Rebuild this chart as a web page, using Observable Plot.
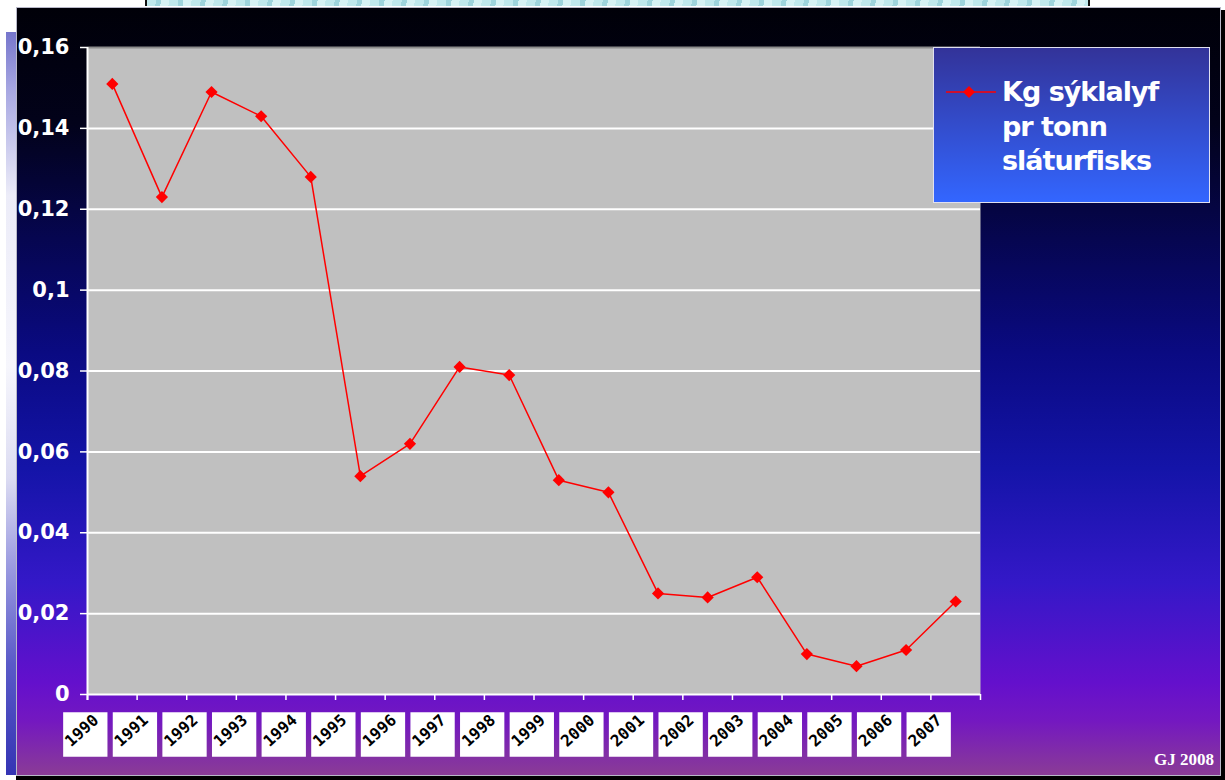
<!DOCTYPE html>
<html>
<head>
<meta charset="utf-8">
<script src="https://cdn.jsdelivr.net/npm/d3@7"></script>
<script src="https://cdn.jsdelivr.net/npm/@observablehq/plot@0.6"></script>
<style>
  html, body { margin: 0; padding: 0; background: #ffffff; }
  #wrap { position: relative; width: 1225px; height: 780px; overflow: hidden; background: #ffffff; }
  #photo { position: absolute; left: 145px; top: 0; width: 941px; height: 6px;
    background: repeating-linear-gradient(100deg, #bfe8ec 0 9px, #9ed4dc 9px 14px, #d6f2f4 14px 22px);
    border-left: 2px solid #111; border-right: 2px solid #111; }
  #stripe { position: absolute; left: 6px; top: 32px; width: 10px; height: 743px;
    background: linear-gradient(to bottom, #7676cc 0%, #a8a8e2 8%, #ececf8 22%, #f6f6fc 45%, #dcdcf2 60%, #9a9ae0 72%, #5a5ac8 85%, #3434b4 100%); }
  #panel { position: absolute; left: 16px; top: 7px; width: 1203px; height: 767px;
    border: 1px solid #b8b8c8;
    background: linear-gradient(to bottom, #000008 0%, #02021a 15%, #060650 30%, #0a0a82 45%, #1414a8 60%, #3418c8 75%, #6410cc 88%, #7418c0 93%, #8a3c96 100%); }
  #rightline { position: absolute; left: 1221px; top: 10px; width: 4px; height: 770px; background: #000; }
  #bottomline { position: absolute; left: 16px; top: 776px; width: 1209px; height: 4px; background: #000; }
  #chart { position: absolute; left: 0; top: 0; }
  #legend { position: absolute; left: 933px; top: 47px; width: 275px; height: 154px;
    border: 1px solid #e0e0f0;
    background: linear-gradient(to bottom, #333399 0%, #3366ff 100%); }
  #legend svg { position: absolute; left: 12px; top: 37px; }
  #legend .txt { position: absolute; left: 68px; top: 27px; color: #ffffff;
    font-family: "DejaVu Sans", sans-serif; font-weight: bold; font-size: 27px;
    letter-spacing: -1px; line-height: 34.5px; white-space: nowrap; }
  #credit { position: absolute; left: 1154px; top: 750px; color: #ffffff;
    font-family: "Liberation Serif", serif; font-weight: bold; font-size: 17px; }
</style>
</head>
<body>
<div id="wrap">
  <div id="photo"></div>
  <div id="stripe"></div>
  <div id="panel"></div>
  <div id="rightline"></div>
  <div id="bottomline"></div>
  <div id="chart"></div>
  <div id="legend">
    <svg width="52" height="14" viewBox="0 0 52 14">
      <line x1="0" y1="7" x2="50" y2="7" stroke="#ff0000" stroke-width="1.5"></line>
      <polygon points="23,1 29,7 23,13 17,7" fill="#ff0000"></polygon>
    </svg>
    <div class="txt"></div>
  </div>
  <div id="credit"></div>
</div>
<script>
// ---- data ----
const years = [1990, 1991, 1992, 1993, 1994, 1995, 1996, 1997, 1998, 1999,
               2000, 2001, 2002, 2003, 2004, 2005, 2006, 2007];
const values = [0.151, 0.123, 0.149, 0.143, 0.128, 0.054, 0.062, 0.081, 0.079, 0.053,
                0.050, 0.025, 0.024, 0.029, 0.010, 0.007, 0.011, 0.023];
const yTicks = [0, 0.02, 0.04, 0.06, 0.08, 0.1, 0.12, 0.14, 0.16];
const yearLabels = years.map(String);
const seriesLines = ["Kg sýklalyf", "pr tonn", "sláturfisks"];
const creditText = "GJ 2008";

// ---- derived ----
const data = years.map((y, i) => ({year: y, value: values[i], label: yearLabels[i]}));
const xMin = years[0] - 0.5, xMax = years[years.length - 1] + 0.5;
const bounds = d3.range(xMin, xMax + 0.01, 1);
const fmt = d => String(d).replace(".", ",");

const chart = Plot.plot({
  width: 1225,
  height: 780,
  marginLeft: 87,
  marginRight: 245,
  marginTop: 47,
  marginBottom: 86,
  style: {background: "transparent", fontFamily: "DejaVu Sans", overflow: "visible"},
  x: {type: "linear", domain: [xMin, xMax], label: null},
  y: {domain: [yTicks[0], yTicks[yTicks.length - 1]], label: null},
  marks: [
    Plot.frame({fill: "#c0c0c0"}),
    Plot.gridY(yTicks.slice(1, -1), {stroke: "#ffffff", strokeOpacity: 1, strokeWidth: 2}),
    Plot.ruleY([yTicks[yTicks.length - 1]], {stroke: "#8c8c8c", strokeWidth: 2}),
    Plot.ruleY([0], {stroke: "#ffffff", strokeWidth: 2}),
    Plot.ruleX([xMin], {stroke: "#ffffff", strokeWidth: 2, insetBottom: -6}),
    Plot.axisX(bounds, {tickSize: 6, stroke: "#ffffff", strokeWidth: 1.5, tickFormat: () => "", label: null}),
    Plot.axisY(yTicks, {
      tickSize: 7, tickPadding: 11, color: "#ffffff", strokeWidth: 1.5, label: null,
      fontWeight: "bold", fontSize: 21, tickFormat: fmt
    }),
    Plot.dot(data, {x: "year", frameAnchor: "bottom", dx: -27, dy: 40, symbol: "square", r: 25, fill: "#ffffff"}),
    Plot.text(data, {
      x: "year", frameAnchor: "bottom", dx: -27, dy: 40, text: "label", rotate: -42,
      fill: "#000000", fontWeight: "bold", fontSize: 16, fontFamily: "DejaVu Sans Mono"
    }),
    Plot.line(data, {x: "year", y: "value", stroke: "#ff0000", strokeWidth: 1.5}),
    Plot.dot(data, {x: "year", y: "value", symbol: "diamond2", r: 5.5, fill: "#ff0000"})
  ]
});
document.getElementById("chart").appendChild(chart);
document.querySelector("#legend .txt").innerHTML = seriesLines.join("<br>");
document.getElementById("credit").textContent = creditText;
</script>
</body>
</html>
